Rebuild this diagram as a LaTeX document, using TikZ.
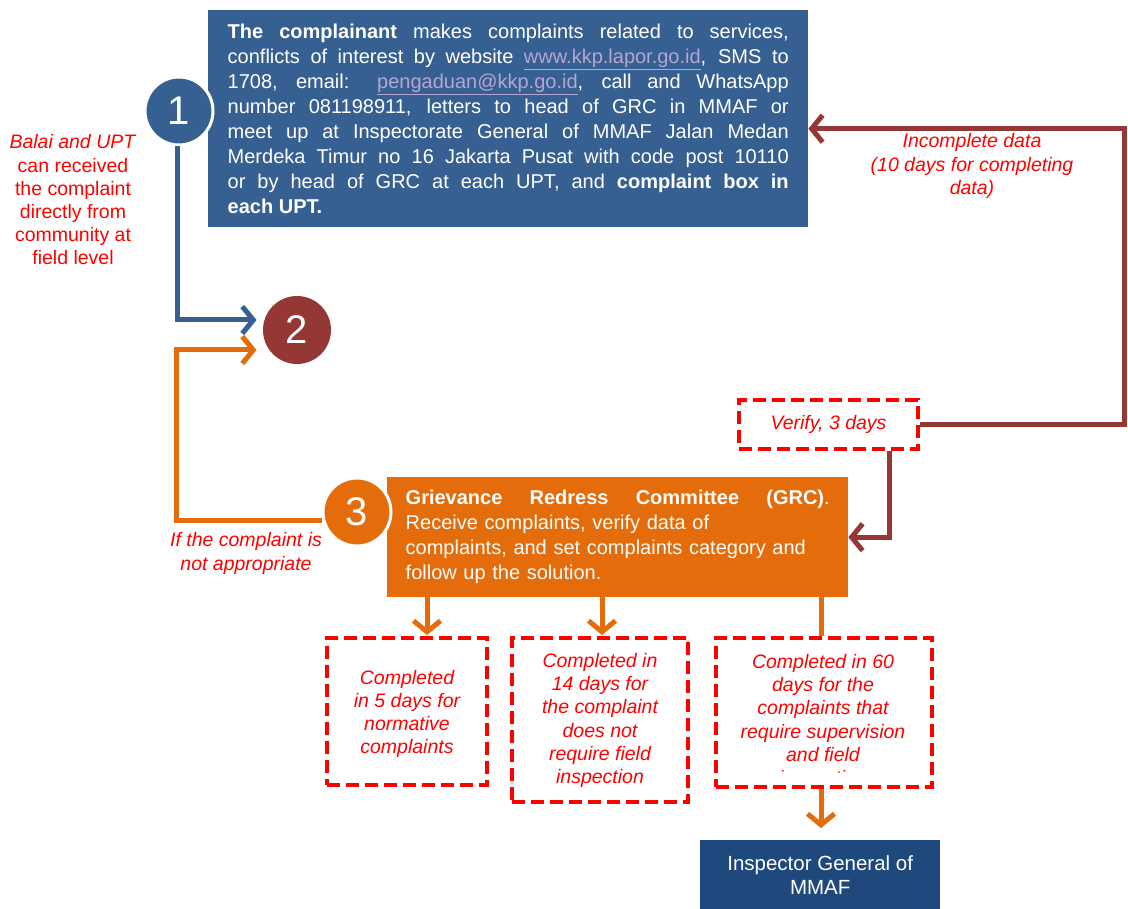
\documentclass[tikz,border=0pt]{standalone}
\usepackage{fontspec}
\setmainfont{Liberation Sans}
\usetikzlibrary{arrows.meta,calc}
\definecolor{cblue}{RGB}{55,96,146}
\definecolor{cdblue}{RGB}{31,73,125}
\definecolor{cbrown}{RGB}{149,55,53}
\definecolor{corange}{RGB}{228,108,10}
\definecolor{clink}{RGB}{180,165,210}
\begin{document}
\begin{tikzpicture}[x=1pt,y=-1pt,
  num/.style={circle, minimum size=68pt, inner sep=0pt, draw=white, line width=3pt, text=white, font=\fontsize{40}{40}\selectfont},
  conn/.style={line width=5pt, -{Straight Barb[length=11pt,width=27pt]}},
  plain/.style={line width=5pt},
  redtxt/.style={text=red, font=\fontsize{19.5}{23.2}\selectfont\itshape, align=center, inner sep=0pt},
  redlab/.style={text=red, font=\fontsize{19.5}{23.2}\selectfont, align=center, inner sep=0pt},
  dbox/.style={draw=red, line width=4pt, dash pattern=on 13pt off 6pt, inner sep=0pt},
  mainbox/.style={text=white, font=\fontsize{20}{25}\selectfont, inner ysep=0pt}
]
\useasboundingbox (0,0) rectangle (1128,909);

% box 1
\node[mainbox, fill=cblue, anchor=north west, minimum width=600pt, minimum height=217pt,
      text width=561pt, inner xsep=19.5pt, align=justify] (box1) at (208,10)
{\textbf{The complainant} makes complaints related to services,\linebreak
conflicts of interest by website {\color{clink}\underline{www.kkp.lapor.go.id}}, SMS to\linebreak
1708, email: {\color{clink}\underline{pengaduan@kkp.go.id}}, call and WhatsApp\linebreak
number 081198911, letters to head of GRC in MMAF or\linebreak
meet up at Inspectorate General of MMAF Jalan Medan\linebreak
Merdeka Timur no 16 Jakarta Pusat with code post 10110\linebreak
or by head of GRC at each UPT, and \textbf{complaint box in\linebreak
each UPT.}};
\node[num, fill=cblue] (c1) at (179,111) {1};

% circle 2
\node[num, fill=cbrown, draw=none] (c2) at (297,330) {2};

% box 3
\node[mainbox, fill=corange, anchor=north west, minimum width=461pt, minimum height=120pt,
      text width=424pt, inner xsep=18pt, align=left] (box3) at (387,477)
{\hbox to 424pt{\textbf{Grievance}\hfill\textbf{Redress}\hfill\textbf{Committee}\hfill\textbf{(GRC)}.}\\
Receive complaints, verify data of\\
complaints, and set complaints category and\\
follow up the solution.};
\node[num, fill=corange] (c3) at (357,512) {3};

% labels
\node[redlab] (lab1) at (73,200) {\textit{Balai and UPT}\\can received\\the complaint\\directly from\\community at\\field level};
\node[redtxt] (lab2) at (246,553.5) {If the complaint is\\not appropriate};
\node[redtxt] (lab3) at (972,166) {Incomplete data\\(10 days for completing\\data)};

% verify
\node[dbox, minimum width=179pt, minimum height=49pt] (ver) at (828.5,424.5) {};
\node[redtxt] (vert) at (ver.center) {Verify, 3 days};

% outcome boxes
\node[dbox, minimum width=160pt, minimum height=147pt] (bA) at (407,711.5) {};
\node[redtxt] (tA) at (407,714) {Completed\\in 5 days for\\normative\\complaints};
\node[dbox, minimum width=176pt, minimum height=164pt] (bB) at (600,720) {};
\node[redtxt] (tB) at (600,720.5) {Completed in\\14 days for\\the complaint\\does not\\require field\\inspection};
\node[dbox, minimum width=216pt, minimum height=149pt] (bC) at (824,712.5) {};
\begin{scope}
\clip (718,641) rectangle (930,772);
\node[redtxt] (tC) at (823,721.5) {Completed in 60\\days for the\\complaints that\\require supervision\\and field\\inspection};
\end{scope}

% IG box
\node[fill=cdblue, text=white, font=\fontsize{20.5}{24}\selectfont, align=center,
      anchor=north west, minimum width=240pt, minimum height=69pt, inner sep=0pt] (ig) at (700,840)
{Inspector General of\\MMAF};

% connectors
\coordinate (bl) at (177,320);
\draw[conn, cblue] ([xshift=-2pt]c1.south) -- (bl) -- ([yshift=10pt,xshift=-5pt]c2.west);
\coordinate (ol) at (176,520);
\draw[conn, corange] ([yshift=-8pt]c3.west) -- (ol) |- ([yshift=-20pt,xshift=-5pt]c2.west);
\coordinate (rc) at (1124,280);
\draw[conn, cbrown] (ver.east) -| (rc) |- ([yshift=-10pt]box1.east);
\draw[conn, cbrown] ([xshift=61pt]ver.south) |- (box3.east);
\coordinate (aA) at (427,635);
\coordinate (aB) at (602,635);
\draw[conn, corange] (box3.south -| aA) -- (aA);
\draw[conn, corange] (box3.south -| aB) -- (aB);
\draw[plain, corange] ([xshift=-3pt]box3.south -| bC.north) -- ([xshift=-3pt]bC.north);
\draw[conn, corange, shorten >=12pt] ([xshift=-3pt]bC.south) -- ([xshift=-3pt]ig.north -| bC.south);
\end{tikzpicture}
\end{document}
